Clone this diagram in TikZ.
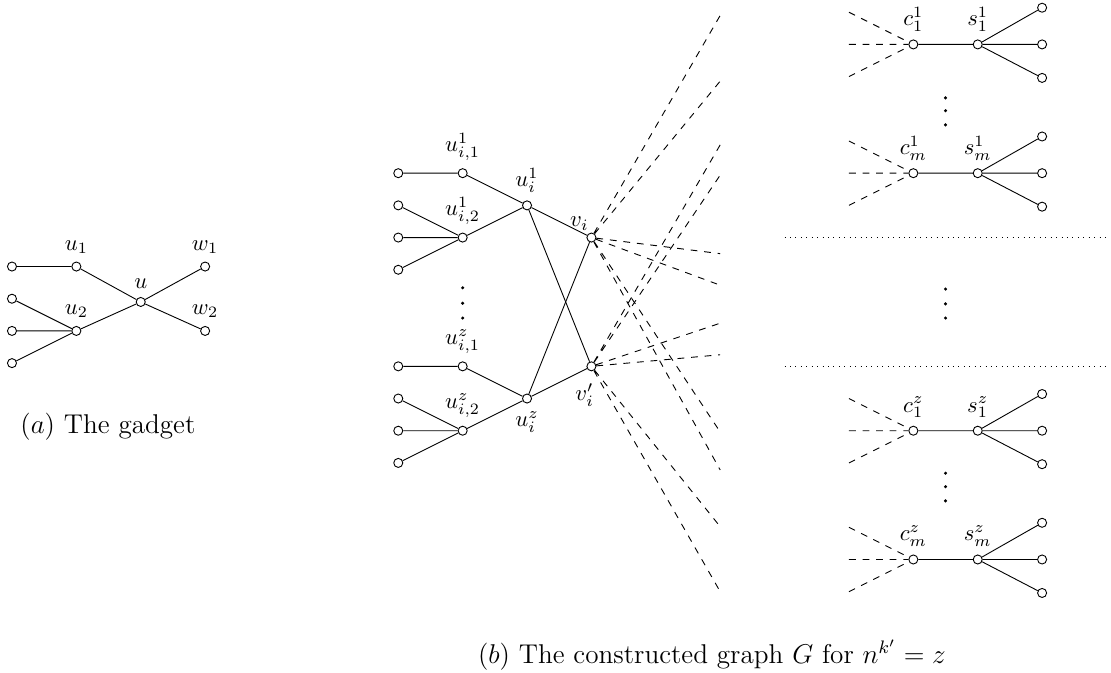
\documentclass[tikz,border=0pt]{standalone}
\usetikzlibrary{positioning}
\begin{document}
\begin{tikzpicture}[x=1cm,y=1cm, vtx/.style={circle,draw,fill=white,inner sep=0pt,minimum size=4pt}, dsh/.style={dashed}, sep/.style={dotted}, dot/.style={circle,fill,inner sep=0pt,minimum size=1.5pt}]
\useasboundingbox (-0.186,-3.26) rectangle (17.07,7.19);
% (a) the gadget
\node[vtx] (g1) at (0,3.05) {}; \node[vtx] (g2) at (0,2.55) {}; \node[vtx] (g3) at (0,2.05) {}; \node[vtx] (g4) at (0,1.55) {};
\node[vtx,label=above:$u_1$] (u1) at (1,3.05) {};
\node[vtx,label=above:$u_2$] (u2) at (1,2.05) {};
\node[vtx,label=above:$u$] (u) at (2,2.5) {};
\node[vtx,label=above:$w_1$] (w1) at (3,3.05) {};
\node[vtx,label=above:$w_2$] (w2) at (3,2.05) {};
\draw (g1)--(u1) (g2)--(u2) (g3)--(u2) (g4)--(u2) (u1)--(u) (u2)--(u) (u)--(w1) (u)--(w2);
\node[font=\large] (capa) at (1.49,0.56) {$(a)$ The gadget};
% (b) left part
\node[vtx] (p1) at (6,4.5) {}; \node[vtx] (p2) at (6,4) {}; \node[vtx] (p3) at (6,3.5) {}; \node[vtx] (p4) at (6,3) {};
\node[vtx] (q1) at (6,1.5) {}; \node[vtx] (q2) at (6,1) {}; \node[vtx] (q3) at (6,0.5) {}; \node[vtx] (q4) at (6,0) {};
\node[vtx,label=above:$u^1_{i,1}$] (a1) at (7,4.5) {};
\node[vtx,label=above:$u^1_{i,2}$] (b1) at (7,3.5) {};
\node[vtx,label=above:$u^z_{i,1}$] (az) at (7,1.5) {};
\node[vtx,label=above:$u^z_{i,2}$] (bz) at (7,0.5) {};
\node[vtx,label=above:$u^1_i$] (ui1) at (8,4) {};
\node[vtx,label=below:$u^z_i$] (uiz) at (8,1) {};
\node[vtx,label={[inner sep=1pt,xshift=1.5pt,yshift=0.5pt]above left:$v_i$}] (vi) at (9,3.5) {};
\node[vtx,label={[xshift=-3pt,yshift=-2pt]below:$v'_i$}] (vpi) at (9,1.5) {};
\node[dot] (m1) at (7,2.72) {}; \node[dot] (m2) at (7,2.48) {}; \node[dot] (m3) at (7,2.25) {};
\draw (p1)--(a1) (p2)--(b1) (p3)--(b1) (p4)--(b1) (a1)--(ui1) (b1)--(ui1) (ui1)--(vi) (ui1)--(vpi);
\draw (q1)--(az) (q2)--(bz) (q3)--(bz) (q4)--(bz) (az)--(uiz) (bz)--(uiz) (uiz)--(vpi) (uiz)--(vi);
% loose ends towards the clause part
\coordinate (e1) at (11,6.95); \coordinate (e2) at (11,5.93); \coordinate (e3) at (11,3.25);
\coordinate (e4) at (11,2.76); \coordinate (e5) at (11,0.48); \coordinate (e6) at (11,-0.11);
\coordinate (f1) at (11,4.94); \coordinate (f2) at (11,4.47); \coordinate (f3) at (11,2.17);
\coordinate (f4) at (11,1.68); \coordinate (f5) at (11,-0.99); \coordinate (f6) at (11,-2.0);
\draw[dsh] (vi)--(e1) (vi)--(e2) (vi)--(e3) (vi)--(e4) (vi)--(e5) (vi)--(e6);
\draw[dsh] (vpi)--(f1) (vpi)--(f2) (vpi)--(f3) (vpi)--(f4) (vpi)--(f5) (vpi)--(f6);
% (b) right part
\node[vtx,label=above:$c^1_1$] (ca) at (14,6.5) {}; \node[vtx,label=above:$s^1_1$] (sa) at (15,6.5) {};
\node[vtx,label=above:$c^1_m$] (cb) at (14,4.5) {}; \node[vtx,label=above:$s^1_m$] (sb) at (15,4.5) {};
\node[vtx,label=above:$c^z_1$] (cc) at (14,0.5) {}; \node[vtx,label=above:$s^z_1$] (sc) at (15,0.5) {};
\node[vtx,label=above:$c^z_m$] (cd) at (14,-1.5) {}; \node[vtx,label=above:$s^z_m$] (sd) at (15,-1.5) {};
\node[vtx] (ta1) at (16,7.07) {}; \node[vtx] (ta2) at (16,6.5) {}; \node[vtx] (ta3) at (16,5.98) {};
\node[vtx] (tb1) at (16,5.07) {}; \node[vtx] (tb2) at (16,4.5) {}; \node[vtx] (tb3) at (16,3.98) {};
\node[vtx] (tc1) at (16,1.07) {}; \node[vtx] (tc2) at (16,0.5) {}; \node[vtx] (tc3) at (16,-0.02) {};
\node[vtx] (td1) at (16,-0.93) {}; \node[vtx] (td2) at (16,-1.5) {}; \node[vtx] (td3) at (16,-2.02) {};
\draw (ca)--(sa) (sa)--(ta1) (sa)--(ta2) (sa)--(ta3);
\draw (cb)--(sb) (sb)--(tb1) (sb)--(tb2) (sb)--(tb3);
\draw (cc)--(sc) (sc)--(tc1) (sc)--(tc2) (sc)--(tc3);
\draw (cd)--(sd) (sd)--(td1) (sd)--(td2) (sd)--(td3);
\coordinate (ha1) at (13,7); \coordinate (ha2) at (13,6.5); \coordinate (ha3) at (13,6);
\coordinate (hb1) at (13,5); \coordinate (hb2) at (13,4.5); \coordinate (hb3) at (13,4);
\coordinate (hc1) at (13,1); \coordinate (hc2) at (13,0.5); \coordinate (hc3) at (13,0);
\coordinate (hd1) at (13,-1); \coordinate (hd2) at (13,-1.5); \coordinate (hd3) at (13,-2);
\draw[dsh] (ha1)--(ca) (ha2)--(ca) (ha3)--(ca) (hb1)--(cb) (hb2)--(cb) (hb3)--(cb);
\draw[dsh] (hc1)--(cc) (hc2)--(cc) (hc3)--(cc) (hd1)--(cd) (hd2)--(cd) (hd3)--(cd);
\node[dot] (ra1) at (14.5,5.67) {}; \node[dot] (ra2) at (14.5,5.47) {}; \node[dot] (ra3) at (14.5,5.25) {};
\node[dot] (rb1) at (14.5,2.70) {}; \node[dot] (rb2) at (14.5,2.47) {}; \node[dot] (rb3) at (14.5,2.25) {};
\node[dot] (rc1) at (14.5,-0.16) {}; \node[dot] (rc2) at (14.5,-0.37) {}; \node[dot] (rc3) at (14.5,-0.59) {};
\coordinate (k1) at (12,3.5); \coordinate (k2) at (17,3.5); \coordinate (k3) at (12,1.5); \coordinate (k4) at (17,1.5);
\draw[sep] (k1)--(k2) (k3)--(k4);
\node[font=\large] (capb) at (10.87,-2.98) {$(b)$ The constructed graph $G$ for $n^{k'}=z$};
\end{tikzpicture}
\end{document}
